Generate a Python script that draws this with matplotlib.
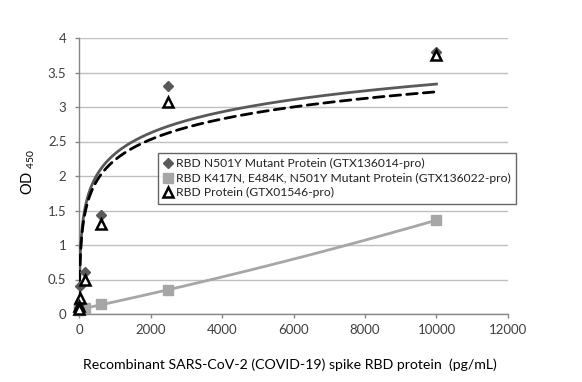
import numpy as np
import matplotlib
matplotlib.use('Agg')
import matplotlib.pyplot as plt
from matplotlib.lines import Line2D

plt.rcParams['font.family'] = ['Lato', 'DejaVu Sans']
plt.rcParams['mathtext.default'] = 'regular'

# concentrations (pg/mL) of the dilution series
conc = [10000, 2500, 625, 156.25, 39.06, 9.77, 2.44]

# OD450 readings
od_n501y = [3.80, 3.30, 1.43, 0.61, 0.40, 0.15, 0.08]
od_triple = [1.36, 0.35, 0.14, 0.09, 0.07, 0.06, 0.06]
od_wt = [3.75, 3.07, 1.30, 0.50, 0.23, 0.12, 0.07]

labels = ['RBD N501Y Mutant Protein (GTX136014-pro)',
          'RBD K417N, E484K, N501Y Mutant Protein (GTX136022-pro)',
          'RBD Protein (GTX01546-pro)']

# Excel log trendlines (y = a*ln(x) + b)
trend_n501y = (0.44, -0.72)
trend_wt = (0.43, -0.74)

dark = '#595959'
light = '#a6a6a6'

fig = plt.figure(figsize=(5.82, 3.82), dpi=100)
ax = fig.add_axes([79/582, 1-314/382, (508-79)/582, (314-38)/382])

# trendlines
xs = np.logspace(0, 4, 400)
ax.plot(xs, trend_n501y[0]*np.log(xs) + trend_n501y[1], color=dark, lw=2.0, zorder=3)
ax.plot(xs, trend_wt[0]*np.log(xs) + trend_wt[1], color='black', lw=2.0,
        dashes=(3.8, 2.2), dash_capstyle='round', zorder=3)

# polynomial trend for the triple mutant
c = np.array(conc)
p = np.polyfit(c, od_triple, 2)
xq = np.linspace(0, max(conc), 300)
ax.plot(xq, np.polyval(p, xq), color=light, lw=2.0, zorder=3)

# data markers
ax.plot(conc, od_triple, ls='none', marker='s', ms=7, color=light, mec=light,
        zorder=4, clip_on=False)
ax.plot(conc, od_n501y, ls='none', marker='D', ms=5.5, color=dark, mec=dark,
        zorder=5, clip_on=False)
ax.plot(conc, od_wt, ls='none', marker='^', ms=7, mfc='white', mec='black',
        mew=1.8, zorder=6, clip_on=False)

ax.set_xlim(0, 12000)
ax.set_ylim(0, 4)
ax.set_xticks(np.arange(0, 12001, 2000))
ax.set_yticks(np.arange(0, 4.01, 0.5))
ax.set_yticklabels(['0', '0.5', '1', '1.5', '2', '2.5', '3', '3.5', '4'])
ax.yaxis.grid(True, color='#c0c0c0', lw=1.0)
ax.set_axisbelow(True)
for s in ['top', 'right']:
    ax.spines[s].set_visible(False)
for s in ['left', 'bottom']:
    ax.spines[s].set_color('#868686')
    ax.spines[s].set_linewidth(1.0)
ax.tick_params(axis='both', colors='#868686', labelcolor='#404040',
               labelsize=9.5, length=3, width=1)
ax.tick_params(axis='x', pad=4)
ax.tick_params(axis='y', pad=6)

fig.text(290/582, 1-365/382, 'Recombinant SARS-CoV-2 (COVID-19) spike RBD protein  (pg/mL)',
         ha='center', va='center', fontsize=10.2, color='black')
fig.text(28/582, 1-172/382, 'OD $_{450}$', rotation=90, ha='center', va='center',
         fontsize=10.5, color='black')

handles = [Line2D([], [], ls='none', marker='D', ms=5, color=dark),
           Line2D([], [], ls='none', marker='s', ms=7, color=light),
           Line2D([], [], ls='none', marker='^', ms=7, mfc='white', mec='black', mew=1.8)]
leg = ax.legend(handles, labels, loc='upper left', bbox_to_anchor=((158-79)/429, (314-153)/276),
                borderaxespad=0, frameon=True, fancybox=False, fontsize=8.7,
                handlelength=0.8, handletextpad=0.2, labelspacing=0.28,
                borderpad=0.45, labelcolor='#222222')
leg.get_frame().set_edgecolor('#404040')
leg.get_frame().set_linewidth(1.0)
leg.set_zorder(7)

fig.savefig('out.png', dpi=100)
